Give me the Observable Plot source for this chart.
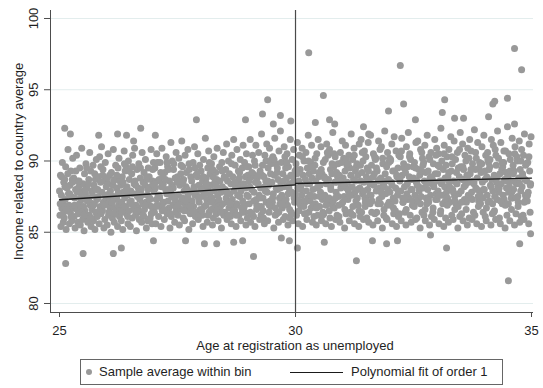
<!DOCTYPE html>
<html><head><meta charset="utf-8">
<script src="https://cdn.jsdelivr.net/npm/d3@7"></script>
<script src="https://cdn.jsdelivr.net/npm/@observablehq/plot@0.6"></script>
<style>
body{margin:0;background:#fff;font-family:"Liberation Sans",Arial,sans-serif;}
#wrap{position:relative;width:543px;height:388px;overflow:hidden;}
#wrap svg{display:block;}
#legend{position:absolute;left:80px;top:359px;width:423px;height:26px;border:1px solid #666;box-sizing:border-box;font-size:13px;color:#1f1f1f;}
#legend .dot{position:absolute;left:5px;top:9px;width:6px;height:6px;border-radius:50%;background:#999;}
#legend .t{position:absolute;top:0;line-height:24px;white-space:nowrap;}
#legend .ln{position:absolute;left:209px;top:12px;width:53px;height:1.3px;background:#1a1a1a;}
</style></head>
<body><div id="wrap"><div id="chart"></div>
<div id="legend"><span class="dot"></span><span class="t" style="left:18px">Sample average within bin</span><span class="ln"></span><span class="t" style="left:270px">Polynomial fit of order 1</span></div></div>
<script>
const xTicks = [25, 30, 35];
const yTicks = [80, 85, 90, 95, 100];
const xDomain = [24.809, 35.042];
const yDomain = [79.368, 100.561];
const cutoffAge = [30];
const xTitle = "Age at registration as unemployed";
const yTitle = "Income related to country average";

const binAges = [
25.00,25.01,25.02,25.03,25.04,25.05,25.06,25.07,25.08,25.09,
25.10,25.11,25.12,25.13,25.14,25.15,25.16,25.17,25.18,25.19,
25.20,25.21,25.22,25.23,25.24,25.25,25.26,25.27,25.28,25.29,
25.30,25.31,25.32,25.33,25.34,25.35,25.36,25.37,25.38,25.39,
25.40,25.41,25.42,25.43,25.44,25.45,25.46,25.47,25.48,25.49,
25.50,25.51,25.52,25.53,25.54,25.55,25.56,25.57,25.58,25.59,
25.60,25.61,25.62,25.63,25.64,25.65,25.66,25.67,25.68,25.69,
25.70,25.71,25.72,25.73,25.74,25.75,25.76,25.77,25.78,25.79,
25.80,25.81,25.82,25.83,25.84,25.85,25.86,25.87,25.88,25.89,
25.90,25.91,25.92,25.93,25.94,25.95,25.96,25.97,25.98,25.99,
26.00,26.01,26.02,26.03,26.04,26.05,26.06,26.07,26.08,26.09,
26.10,26.11,26.12,26.13,26.14,26.15,26.16,26.17,26.18,26.19,
26.20,26.21,26.22,26.23,26.24,26.25,26.26,26.27,26.28,26.29,
26.30,26.31,26.32,26.33,26.34,26.35,26.36,26.37,26.38,26.39,
26.40,26.41,26.42,26.43,26.44,26.45,26.46,26.47,26.48,26.49,
26.50,26.51,26.52,26.53,26.54,26.55,26.56,26.57,26.58,26.59,
26.60,26.61,26.62,26.63,26.64,26.65,26.66,26.67,26.68,26.69,
26.70,26.71,26.72,26.73,26.74,26.75,26.76,26.77,26.78,26.79,
26.80,26.81,26.82,26.83,26.84,26.85,26.86,26.87,26.88,26.89,
26.90,26.91,26.92,26.93,26.94,26.95,26.96,26.97,26.98,26.99,
27.00,27.01,27.02,27.03,27.04,27.05,27.06,27.07,27.08,27.09,
27.10,27.11,27.12,27.13,27.14,27.15,27.16,27.17,27.18,27.19,
27.20,27.21,27.22,27.23,27.24,27.25,27.26,27.27,27.28,27.29,
27.30,27.31,27.32,27.33,27.34,27.35,27.36,27.37,27.38,27.39,
27.40,27.41,27.42,27.43,27.44,27.45,27.46,27.47,27.48,27.49,
27.50,27.51,27.52,27.53,27.54,27.55,27.56,27.57,27.58,27.59,
27.60,27.61,27.62,27.63,27.64,27.65,27.66,27.67,27.68,27.69,
27.70,27.71,27.72,27.73,27.74,27.75,27.76,27.77,27.78,27.79,
27.80,27.81,27.82,27.83,27.84,27.85,27.86,27.87,27.88,27.89,
27.90,27.91,27.92,27.93,27.94,27.95,27.96,27.97,27.98,27.99,
28.00,28.01,28.02,28.03,28.04,28.05,28.06,28.07,28.08,28.09,
28.10,28.11,28.12,28.13,28.14,28.15,28.16,28.17,28.18,28.19,
28.20,28.21,28.22,28.23,28.24,28.25,28.26,28.27,28.28,28.29,
28.30,28.31,28.32,28.33,28.34,28.35,28.36,28.37,28.38,28.39,
28.40,28.41,28.42,28.43,28.44,28.45,28.46,28.47,28.48,28.49,
28.50,28.51,28.52,28.53,28.54,28.55,28.56,28.57,28.58,28.59,
28.60,28.61,28.62,28.63,28.64,28.65,28.66,28.67,28.68,28.69,
28.70,28.71,28.72,28.73,28.74,28.75,28.76,28.77,28.78,28.79,
28.80,28.81,28.82,28.83,28.84,28.85,28.86,28.87,28.88,28.89,
28.90,28.91,28.92,28.93,28.94,28.95,28.96,28.97,28.98,28.99,
29.00,29.01,29.02,29.03,29.04,29.05,29.06,29.07,29.08,29.09,
29.10,29.11,29.12,29.13,29.14,29.15,29.16,29.17,29.18,29.19,
29.20,29.21,29.22,29.23,29.24,29.25,29.26,29.27,29.28,29.29,
29.30,29.31,29.32,29.33,29.34,29.35,29.36,29.37,29.38,29.39,
29.40,29.41,29.42,29.43,29.44,29.45,29.46,29.47,29.48,29.49,
29.50,29.51,29.52,29.53,29.54,29.55,29.56,29.57,29.58,29.59,
29.60,29.61,29.62,29.63,29.64,29.65,29.66,29.67,29.68,29.69,
29.70,29.71,29.72,29.73,29.74,29.75,29.76,29.77,29.78,29.79,
29.80,29.81,29.82,29.83,29.84,29.85,29.86,29.87,29.88,29.89,
29.90,29.91,29.92,29.93,29.94,29.95,29.96,29.97,29.98,29.99,
30.00,30.01,30.02,30.03,30.04,30.05,30.06,30.07,30.08,30.09,
30.10,30.11,30.12,30.13,30.14,30.15,30.16,30.17,30.18,30.19,
30.20,30.21,30.22,30.23,30.24,30.25,30.26,30.27,30.28,30.29,
30.30,30.31,30.32,30.33,30.34,30.35,30.36,30.37,30.38,30.39,
30.40,30.41,30.42,30.43,30.44,30.45,30.46,30.47,30.48,30.49,
30.50,30.51,30.52,30.53,30.54,30.55,30.56,30.57,30.58,30.59,
30.60,30.61,30.62,30.63,30.64,30.65,30.66,30.67,30.68,30.69,
30.70,30.71,30.72,30.73,30.74,30.75,30.76,30.77,30.78,30.79,
30.80,30.81,30.82,30.83,30.84,30.85,30.86,30.87,30.88,30.89,
30.90,30.91,30.92,30.93,30.94,30.95,30.96,30.97,30.98,30.99,
31.00,31.01,31.02,31.03,31.04,31.05,31.06,31.07,31.08,31.09,
31.10,31.11,31.12,31.13,31.14,31.15,31.16,31.17,31.18,31.19,
31.20,31.21,31.22,31.23,31.24,31.25,31.26,31.27,31.28,31.29,
31.30,31.31,31.32,31.33,31.34,31.35,31.36,31.37,31.38,31.39,
31.40,31.41,31.42,31.43,31.44,31.45,31.46,31.47,31.48,31.49,
31.50,31.51,31.52,31.53,31.54,31.55,31.56,31.57,31.58,31.59,
31.60,31.61,31.62,31.63,31.64,31.65,31.66,31.67,31.68,31.69,
31.70,31.71,31.72,31.73,31.74,31.75,31.76,31.77,31.78,31.79,
31.80,31.81,31.82,31.83,31.84,31.85,31.86,31.87,31.88,31.89,
31.90,31.91,31.92,31.93,31.94,31.95,31.96,31.97,31.98,31.99,
32.00,32.01,32.02,32.03,32.04,32.05,32.06,32.07,32.08,32.09,
32.10,32.11,32.12,32.13,32.14,32.15,32.16,32.17,32.18,32.19,
32.20,32.21,32.22,32.23,32.24,32.25,32.26,32.27,32.28,32.29,
32.30,32.31,32.32,32.33,32.34,32.35,32.36,32.37,32.38,32.39,
32.40,32.41,32.42,32.43,32.44,32.45,32.46,32.47,32.48,32.49,
32.50,32.51,32.52,32.53,32.54,32.55,32.56,32.57,32.58,32.59,
32.60,32.61,32.62,32.63,32.64,32.65,32.66,32.67,32.68,32.69,
32.70,32.71,32.72,32.73,32.74,32.75,32.76,32.77,32.78,32.79,
32.80,32.81,32.82,32.83,32.84,32.85,32.86,32.87,32.88,32.89,
32.90,32.91,32.92,32.93,32.94,32.95,32.96,32.97,32.98,32.99,
33.00,33.01,33.02,33.03,33.04,33.05,33.06,33.07,33.08,33.09,
33.10,33.11,33.12,33.13,33.14,33.15,33.16,33.17,33.18,33.19,
33.20,33.21,33.22,33.23,33.24,33.25,33.26,33.27,33.28,33.29,
33.30,33.31,33.32,33.33,33.34,33.35,33.36,33.37,33.38,33.39,
33.40,33.41,33.42,33.43,33.44,33.45,33.46,33.47,33.48,33.49,
33.50,33.51,33.52,33.53,33.54,33.55,33.56,33.57,33.58,33.59,
33.60,33.61,33.62,33.63,33.64,33.65,33.66,33.67,33.68,33.69,
33.70,33.71,33.72,33.73,33.74,33.75,33.76,33.77,33.78,33.79,
33.80,33.81,33.82,33.83,33.84,33.85,33.86,33.87,33.88,33.89,
33.90,33.91,33.92,33.93,33.94,33.95,33.96,33.97,33.98,33.99,
34.00,34.01,34.02,34.03,34.04,34.05,34.06,34.07,34.08,34.09,
34.10,34.11,34.12,34.13,34.14,34.15,34.16,34.17,34.18,34.19,
34.20,34.21,34.22,34.23,34.24,34.25,34.26,34.27,34.28,34.29,
34.30,34.31,34.32,34.33,34.34,34.35,34.36,34.37,34.38,34.39,
34.40,34.41,34.42,34.43,34.44,34.45,34.46,34.47,34.48,34.49,
34.50,34.51,34.52,34.53,34.54,34.55,34.56,34.57,34.58,34.59,
34.60,34.61,34.62,34.63,34.64,34.65,34.66,34.67,34.68,34.69,
34.70,34.71,34.72,34.73,34.74,34.75,34.76,34.77,34.78,34.79,
34.80,34.81,34.82,34.83,34.84,34.85,34.86,34.87,34.88,34.89,
34.90,34.91,34.92,34.93,34.94,34.95,34.96,34.97,34.98,34.99
];
const binIncomes = [
87.9,86.2,89.0,85.4,87.6,86.7,89.9,87.1,85.7,88.5,
86.0,88.7,87.3,89.6,85.2,86.8,88.1,86.5,90.8,87.7,
86.9,85.6,88.3,86.4,89.3,87.5,85.8,88.7,90.2,86.7,
88.8,86.1,87.4,85.3,88.0,86.8,90.4,86.6,88.6,85.7,
86.3,88.2,87.0,89.5,85.5,86.7,87.8,90.9,87.3,85.9,
88.4,86.8,85.1,89.1,86.5,87.7,89.8,86.0,88.1,87.2,
85.7,87.4,88.7,86.2,90.6,86.9,89.3,85.4,87.9,86.6,
87.6,89.7,85.8,88.3,87.0,85.2,88.7,86.4,90.1,87.3,
86.1,88.0,87.5,88.9,85.6,90.3,86.8,88.5,86.3,91.0,
87.8,86.5,89.4,87.1,85.3,88.6,85.9,89.9,87.4,88.2,
87.0,85.5,88.4,90.5,86.2,87.7,89.0,86.7,87.9,85.0,
89.2,86.8,86.0,88.3,90.8,87.5,85.7,88.7,86.4,89.7,
86.6,88.1,87.3,85.4,89.5,86.9,90.2,86.1,88.6,87.7,
88.3,85.8,87.1,88.9,85.2,87.8,86.7,90.7,87.4,89.3,
86.8,89.6,86.3,88.2,87.6,85.6,90.0,86.5,88.7,87.1,
85.4,87.9,87.2,89.1,86.0,90.4,87.7,86.6,88.4,90.9,
88.6,86.2,86.9,85.1,89.4,87.5,86.7,88.1,89.8,85.9,
87.3,88.8,86.4,88.0,85.7,90.6,87.0,88.5,86.1,89.2,
86.6,88.3,90.1,87.1,85.3,88.7,87.6,85.8,89.5,86.9,
88.9,87.4,86.0,88.2,90.8,86.8,85.6,88.6,86.5,89.9,
87.9,86.4,89.5,88.1,85.6,87.3,90.5,86.9,88.6,87.6,
86.1,88.7,87.4,89.9,86.8,85.4,88.2,90.9,87.0,88.9,
88.4,87.1,85.9,89.2,86.5,88.0,90.3,87.7,86.3,89.6,
87.2,89.4,86.7,88.6,85.3,87.9,91.3,86.1,88.3,90.0,
86.9,88.1,89.8,87.5,85.7,88.8,86.4,90.6,87.0,88.5,
88.9,86.2,87.6,90.2,85.5,88.3,87.1,89.1,86.6,91.4,
87.4,89.6,86.0,88.7,87.9,85.8,90.4,86.9,88.2,89.2,
86.5,88.0,90.8,87.3,85.2,89.4,87.8,86.3,88.9,87.0,
88.6,87.2,85.6,89.9,86.8,88.2,91.0,87.6,86.1,89.0,
87.7,86.4,88.9,90.5,85.9,88.3,87.1,89.7,86.6,88.0,
89.3,87.5,86.2,88.6,85.4,90.1,87.9,86.8,88.2,91.6,
86.9,88.8,87.3,85.7,89.5,88.1,90.7,86.4,87.7,89.1,
88.3,86.6,89.8,87.4,85.5,88.9,86.0,90.3,87.9,88.5,
87.1,89.2,86.3,88.7,90.9,87.6,85.8,88.1,86.9,89.6,
88.6,86.8,87.8,85.3,89.9,88.2,87.0,90.6,86.2,88.9,
86.4,88.0,89.4,87.4,91.2,85.9,88.6,87.1,90.0,86.7,
89.1,87.7,86.1,88.4,85.6,90.4,87.3,88.9,86.8,91.5,
87.9,86.5,89.7,88.2,85.4,87.0,90.8,86.9,88.6,89.3,
86.2,88.8,87.5,90.1,85.8,88.3,86.7,89.5,87.2,91.1,
88.4,87.0,89.9,86.4,88.9,85.5,90.5,87.6,86.0,89.0,
87.5,89.6,87.0,88.2,91.5,85.7,88.9,88.0,86.3,90.4,
89.1,86.1,87.8,90.0,85.4,88.5,91.1,87.3,86.9,88.8,
86.8,88.4,90.6,87.6,85.9,89.3,88.1,86.2,91.9,89.0,
89.7,87.4,86.0,88.9,85.6,90.4,87.9,88.6,87.1,91.2,
87.8,85.8,89.5,88.3,86.4,90.9,87.2,89.1,86.8,90.1,
88.5,87.1,90.3,87.7,85.3,89.0,91.6,86.2,89.8,88.1,
86.3,89.2,88.0,88.7,85.7,90.7,87.4,87.0,92.1,88.4,
89.9,87.6,86.7,89.1,85.9,88.2,91.0,87.2,86.1,89.5,
87.3,88.8,90.5,86.9,85.5,89.6,88.1,88.4,86.0,91.5,
89.0,86.4,87.8,90.1,85.8,88.5,90.8,87.4,87.1,89.3,
87.7,89.8,86.2,89.1,91.3,88.1,85.6,88.6,90.4,87.0,
89.4,86.9,88.3,87.6,90.9,85.4,89.0,87.2,90.0,86.3,
87.1,88.7,90.6,87.9,85.9,89.5,87.4,91.8,86.4,89.1,
88.4,87.2,89.9,86.7,91.1,88.8,85.7,88.0,89.3,86.1,
87.5,89.7,87.0,88.6,85.5,90.5,88.1,86.2,91.5,88.9,
89.2,86.8,88.3,87.8,91.0,85.8,89.1,87.3,86.4,89.9,
86.3,88.9,87.6,90.1,85.6,88.4,91.2,87.2,87.1,90.4,
88.7,87.4,90.8,86.0,89.4,88.0,85.4,89.1,86.9,92.0,
87.2,89.6,86.7,88.5,90.3,85.9,87.8,89.2,86.2,88.9,
89.8,87.5,86.1,89.0,85.7,90.6,88.1,88.4,87.0,91.4,
87.1,88.8,90.2,87.5,85.3,89.3,91.1,86.3,88.1,89.7,
88.5,87.3,87.9,90.4,85.8,89.5,86.4,89.0,91.9,87.6,
88.2,90.1,86.2,88.7,90.9,85.6,87.8,89.3,87.2,89.6,
89.8,87.4,89.0,86.9,85.4,91.2,88.1,86.1,88.6,91.5,
86.4,89.2,87.7,90.0,85.9,88.5,90.7,87.4,87.1,90.3,
88.9,86.0,89.5,88.0,91.3,85.7,88.7,87.6,87.0,91.8,
87.6,89.7,87.2,88.4,85.5,90.5,88.3,89.1,86.3,90.1,
90.2,87.9,86.4,89.3,85.8,88.6,91.4,87.3,88.1,90.8,
87.0,88.8,91.0,87.5,85.3,89.8,88.4,86.2,88.2,92.1,
89.1,87.7,86.0,89.6,85.9,90.6,88.0,88.7,87.1,90.2,
87.8,90.0,86.9,88.5,91.2,85.6,89.3,87.4,86.3,91.7,
89.3,87.2,88.1,90.7,85.4,88.9,87.6,89.5,86.1,90.4,
86.3,88.6,90.3,87.9,85.8,91.6,89.0,87.4,87.1,89.8,
89.5,88.2,86.4,89.2,85.5,91.0,87.7,88.4,87.3,92.0,
87.4,88.9,90.5,86.2,90.1,85.7,88.7,88.0,87.2,89.6,
88.8,87.0,89.9,87.6,85.9,91.3,88.5,86.0,88.3,91.4,
87.3,89.4,87.9,89.0,85.3,90.8,87.5,89.3,86.4,90.2,
89.7,88.1,86.2,88.6,91.1,85.8,89.2,87.4,87.0,91.8,
88.0,89.3,87.1,90.3,85.5,88.8,87.6,90.6,86.1,88.4,
88.7,86.4,89.8,88.2,85.9,91.5,89.1,87.3,87.7,90.9,
87.3,89.1,87.9,90.5,85.6,89.6,88.6,86.3,92.3,88.4,
90.0,87.6,87.0,89.4,85.4,91.1,88.2,88.8,86.0,89.7,
87.8,90.3,87.4,88.9,85.7,90.8,88.5,87.1,88.1,91.7,
89.3,86.2,89.8,88.0,85.9,88.6,91.4,87.5,87.2,90.1,
87.0,89.2,88.4,90.6,85.3,89.5,87.7,88.9,86.1,92.0,
89.6,87.9,86.3,88.7,91.2,85.8,89.4,88.2,87.3,90.4,
88.3,90.0,87.1,89.0,85.5,90.9,87.6,88.5,86.0,91.5,
89.1,87.4,90.7,87.8,85.9,89.8,88.6,86.4,88.4,92.2,
86.2,89.4,88.1,90.2,85.6,88.8,91.3,87.5,87.2,89.5,
89.9,87.7,87.0,89.2,85.4,91.0,88.5,87.4,88.0,91.8,
88.0,89.3,86.1,90.4,85.8,88.9,87.6,90.6,87.1,89.9,
89.4,87.2,90.1,88.3,85.5,91.5,88.7,86.3,87.9,91.1,
86.4,89.0,87.5,90.8,85.9,89.7,88.5,87.3,92.1,88.2,
90.2,87.8,86.0,89.1,85.6,91.3,88.4,89.4,87.0,89.6,
87.6,89.9,87.3,88.7,85.3,90.7,89.2,88.1,86.2,92.4,
88.9,87.0,90.5,88.2,85.8,90.1,88.6,87.4,87.8,91.6,
87.4,89.7,88.0,89.3,85.5,91.0,88.5,86.3,88.4,90.3,
90.0,87.5,87.1,88.8,91.4,85.7,89.4,87.9,86.1,90.8,
88.2,89.1,86.2,90.4,85.9,91.9,88.7,87.6,87.3,89.8,
88.6,87.2,89.9,87.8,85.6,91.2,89.3,86.4,88.4,91.7
];
const extraAges = [
25.015,25.045,25.075,25.115,25.145,25.175,25.215,25.245,25.275,25.315,25.345,25.375,25.415,25.445,25.475,
25.515,25.545,25.575,25.615,25.645,25.675,25.715,25.745,25.775,25.815,25.845,25.875,25.915,25.945,25.975,
26.015,26.045,26.075,26.115,26.145,26.175,26.215,26.245,26.275,26.315,26.345,26.375,26.415,26.445,26.475,
26.515,26.545,26.575,26.615,26.645,26.675,26.715,26.745,26.775,26.815,26.845,26.875,26.915,26.945,26.975,
27.015,27.045,27.075,27.115,27.145,27.175,27.215,27.245,27.275,27.315,27.345,27.375,27.415,27.445,27.475,
27.515,27.545,27.575,27.615,27.645,27.675,27.715,27.745,27.775,27.815,27.845,27.875,27.915,27.945,27.975,
28.015,28.045,28.075,28.115,28.145,28.175,28.215,28.245,28.275,28.315,28.345,28.375,28.415,28.445,28.475,
28.515,28.545,28.575,28.615,28.645,28.675,28.715,28.745,28.775,28.815,28.845,28.875,28.915,28.945,28.975,
29.015,29.045,29.075,29.115,29.145,29.175,29.215,29.245,29.275,29.315,29.345,29.375,29.415,29.445,29.475,
29.515,29.545,29.575,29.615,29.645,29.675,29.715,29.745,29.775,29.815,29.845,29.875,29.915,29.945,29.975,
30.015,30.045,30.075,30.115,30.145,30.175,30.215,30.245,30.275,30.315,30.345,30.375,30.415,30.445,30.475,
30.515,30.545,30.575,30.615,30.645,30.675,30.715,30.745,30.775,30.815,30.845,30.875,30.915,30.945,30.975,
31.015,31.045,31.075,31.115,31.145,31.175,31.215,31.245,31.275,31.315,31.345,31.375,31.415,31.445,31.475,
31.515,31.545,31.575,31.615,31.645,31.675,31.715,31.745,31.775,31.815,31.845,31.875,31.915,31.945,31.975,
32.015,32.045,32.075,32.115,32.145,32.175,32.215,32.245,32.275,32.315,32.345,32.375,32.415,32.445,32.475,
32.515,32.545,32.575,32.615,32.645,32.675,32.715,32.745,32.775,32.815,32.845,32.875,32.915,32.945,32.975,
33.015,33.045,33.075,33.115,33.145,33.175,33.215,33.245,33.275,33.315,33.345,33.375,33.415,33.445,33.475,
33.515,33.545,33.575,33.615,33.645,33.675,33.715,33.745,33.775,33.815,33.845,33.875,33.915,33.945,33.975,
34.015,34.045,34.075,34.115,34.145,34.175,34.215,34.245,34.275,34.315,34.345,34.375,34.415,34.445,34.475,
34.515,34.545,34.575,34.615,34.645,34.675,34.715,34.745,34.775,34.815,34.845,34.875,34.915,34.945,34.975
];
const extraIncomes = [
87.0,88.9,86.3,88.2,86.6,89.1,87.7,86.1,88.5,86.9,89.3,87.8,88.6,87.4,86.4,
86.2,88.0,89.5,88.4,87.1,86.0,86.9,89.1,88.0,87.4,86.5,89.6,89.0,86.9,87.6,
88.8,86.4,87.3,87.1,88.6,86.3,89.0,87.8,86.5,86.4,88.5,89.8,88.0,86.1,89.3,
87.0,89.6,86.7,88.3,86.5,87.8,89.5,87.6,86.2,86.9,88.9,88.0,87.3,86.3,89.4,
88.4,86.8,89.9,87.6,89.2,86.5,86.6,88.7,89.9,88.0,86.3,87.5,89.4,87.3,86.7,
86.9,88.6,89.7,88.5,86.5,87.2,87.5,89.8,86.8,86.4,88.0,89.5,89.1,87.4,86.2,
86.5,88.9,87.7,88.4,86.2,89.9,87.1,89.4,86.7,88.3,86.6,87.3,86.4,89.3,88.0,
88.8,87.8,86.2,87.0,89.8,86.5,88.5,86.2,87.6,89.2,87.9,86.4,86.8,88.1,89.6,
88.6,86.4,89.2,87.2,89.7,86.6,89.0,87.4,86.8,86.5,88.2,90.0,88.6,86.9,89.8,
87.4,90.1,86.7,89.5,86.4,88.1,87.0,88.6,90.3,89.9,87.7,86.6,86.3,88.9,87.5,
89.4,87.3,86.5,88.0,90.3,86.8,86.3,88.4,90.0,87.6,89.6,86.9,90.2,86.7,88.2,
87.5,89.4,86.2,88.8,86.9,90.6,86.5,88.2,89.8,90.5,87.4,88.5,86.9,88.6,89.9,
88.3,86.6,90.1,89.8,87.6,86.3,86.8,90.4,88.6,88.0,86.5,89.7,90.6,87.9,86.8,
87.2,89.3,88.4,86.4,88.9,90.3,89.5,87.0,88.7,87.8,90.2,86.6,88.6,86.9,89.9,
90.1,88.3,86.7,86.5,89.0,87.9,88.8,90.7,87.1,87.4,86.6,89.6,90.3,88.0,86.9,
86.8,89.5,88.6,88.2,87.0,90.6,89.9,86.6,88.4,87.3,90.1,88.9,86.7,88.5,90.4,
89.7,87.6,86.5,88.6,90.5,87.2,86.9,89.2,88.1,90.3,87.8,86.6,88.4,86.8,90.8,
87.1,89.6,88.7,86.6,88.9,90.2,89.4,87.3,88.5,90.6,88.0,86.8,87.5,89.8,86.4,
88.7,86.7,90.1,89.6,88.2,87.0,86.5,90.4,88.9,88.1,87.2,89.9,90.7,86.9,88.6,
87.8,89.3,86.6,89.1,90.5,87.4,86.8,88.4,90.0,88.9,87.1,89.7,87.6,90.3,88.3
];
const highAges = [25.11,25.23,25.83,26.23,26.42,26.57,26.72,27.03,27.90,28.94,29.30,29.41,29.53,29.68,29.90,30.28,30.42,30.59,30.72,30.83,31.44,31.55,31.97,32.22,32.29,32.54,33.11,33.16,33.37,33.56,34.09,34.18,34.22,34.49,34.64,34.64,34.79];
const highIncomes = [92.3,91.9,91.8,91.9,91.8,91.4,92.3,91.8,92.9,92.9,93.3,94.3,92.6,93.2,92.8,97.6,92.7,94.6,92.9,92.6,92.4,91.9,93.5,96.7,94.0,92.9,93.4,94.3,93.0,93.0,93.1,94.0,94.2,94.4,97.9,92.6,96.4];
const lowAges = [25.13,25.50,26.14,26.31,26.99,27.67,28.07,28.33,28.69,28.88,29.11,29.70,29.87,30.04,30.61,31.29,31.63,31.93,32.16,32.86,33.20,34.51,34.75,34.98];
const lowIncomes = [82.8,83.5,83.5,83.9,84.4,84.4,84.2,84.2,84.3,84.4,83.3,84.6,84.4,83.9,84.3,83.0,84.4,84.2,84.4,84.8,83.9,81.6,84.2,84.9];

const fitLeftAges = [25, 30];
const fitLeftIncomes = [87.28, 88.33];
const fitRightAges = [30, 35];
const fitRightIncomes = [88.42, 88.80];

const points = [];
function addSeries(ages, incomes) {
  ages.forEach((a, i) => points.push({age: a, income: incomes[i]}));
}
addSeries(binAges, binIncomes);
addSeries(extraAges, extraIncomes);
addSeries(highAges, highIncomes);
addSeries(lowAges, lowIncomes);
const fitLeft = fitLeftAges.map((a, i) => ({age: a, income: fitLeftIncomes[i]}));
const fitRight = fitRightAges.map((a, i) => ({age: a, income: fitRightIncomes[i]}));

const axisColor = "#4d4d4d";
const chart = Plot.plot({
  width: 543, height: 356,
  marginTop: 10, marginBottom: 44, marginLeft: 50, marginRight: 10,
  x: {domain: xDomain},
  y: {domain: yDomain},
  style: {fontFamily: '"Liberation Sans", Arial, sans-serif', fontSize: "13px", color: "#1f1f1f", background: "#fff"},
  marks: [
    Plot.gridY(yTicks, {stroke: "#e3eded", strokeOpacity: 1}),
    Plot.dot(points, {x: "age", y: "income", r: 3.5, fill: "#999999", stroke: null}),
    Plot.ruleX(cutoffAge, {stroke: "#4a4a4a", strokeWidth: 1.2}),
    Plot.line(fitLeft, {x: "age", y: "income", stroke: "#1a1a1a", strokeWidth: 1.3}),
    Plot.line(fitRight, {x: "age", y: "income", stroke: "#1a1a1a", strokeWidth: 1.3}),
    Plot.ruleX([xDomain[0]], {stroke: axisColor}),
    Plot.ruleY([yDomain[0]], {stroke: axisColor}),
    Plot.axisX(xTicks, {tickSize: 5, tickFormat: () => "", stroke: axisColor, label: null}),
    Plot.axisY(yTicks, {tickSize: 6, tickFormat: () => "", stroke: axisColor, label: null}),
    Plot.text(xTicks, {x: d => d, text: d => String(d), frameAnchor: "bottom", dy: 18, lineAnchor: "middle", fontSize: 13}),
    Plot.text(yTicks, {y: d => d, text: d => String(d), frameAnchor: "left", dx: -17, rotate: -90, lineAnchor: "middle", textAnchor: "middle", fontSize: 13}),
    Plot.text([xTitle], {text: d => d, frameAnchor: "bottom", dx: 3, dy: 33, lineAnchor: "middle", textAnchor: "middle", fontSize: 13}),
    Plot.text([yTitle], {text: d => d, frameAnchor: "left", dx: -32, rotate: -90, lineAnchor: "middle", textAnchor: "middle", fontSize: 13})
  ]
});
document.getElementById("chart").appendChild(chart);
</script>
</body></html>
